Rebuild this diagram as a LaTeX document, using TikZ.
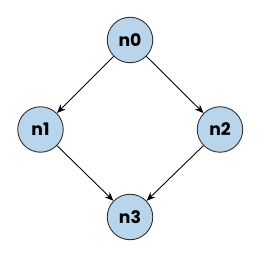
\documentclass[tikz,border=0pt]{standalone}
\usepackage{fontspec}
\setsansfont{Poppins}
\usetikzlibrary{arrows.meta}
\definecolor{NodeBlue}{RGB}{184,213,236}
\definecolor{EdgeGray}{RGB}{45,45,45}

\begin{document}
\begin{tikzpicture}[
    vert/.style={circle, draw=EdgeGray, fill=NodeBlue, line width=0.5pt,
                 minimum size=0.91cm, inner sep=0pt,
                 font=\sffamily\bfseries\fontsize{9.8}{11}\selectfont},
    edge/.style={-{Stealth[length=5pt, width=4pt]}, line width=0.5pt, black}
  ]
    \useasboundingbox (0,0) rectangle (5.28,5.18);

    % vertices
    \node[vert] (n0) at (2.60, 4.38) {n0};
    \node[vert] (n1) at (0.81, 2.59) {n1};
    \node[vert] (n2) at (4.40, 2.59) {n2};
    \node[vert] (n3) at (2.60, 0.84) {n3};

    % edges
    \draw[edge] (n0) -- (n1);
    \draw[edge] (n0) -- (n2);
    \draw[edge] (n1) -- (n3);
    \draw[edge] (n2) -- (n3);
  \end{tikzpicture}
\end{document}
